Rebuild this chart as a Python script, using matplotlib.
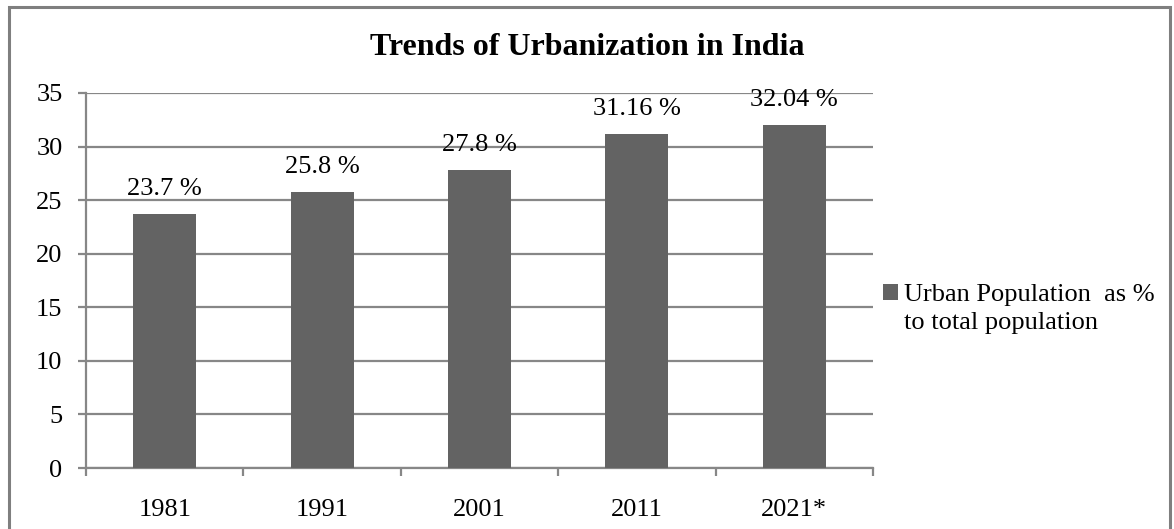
import matplotlib.pyplot as plt
from matplotlib.patches import Rectangle

# dane
years = ['1981', '1991', '2001', '2011', '2021*']
urban_pct = [23.7, 25.8, 27.8, 31.16, 32.04]
bar_labels = ['23.7 %', '25.8 %', '27.8 %', '31.16 %', '32.04 %']
yticks = [0, 5, 10, 15, 20, 25, 30, 35]
legend_lines = ['Urban Population  as %', 'to total population']

plt.rcParams['font.family'] = ['Liberation Serif', 'DejaVu Serif']
grid_col = '#878787'
bar_col = '#636363'

fig = plt.figure(figsize=(11.74, 5.29), dpi=100)
ax = fig.add_axes([0.0733, 0.1153, 0.6703, 0.7089])

x = list(range(len(years)))
bars = ax.bar(x, urban_pct, width=0.4, color=bar_col, zorder=3)

for b, lab in zip(bars, bar_labels):
    ax.annotate(lab, (b.get_x() + b.get_width() / 2, b.get_height()),
                xytext=(0, 18), textcoords='offset points',
                ha='center', va='center', fontsize=19)

ax.set_xlim(-0.5, len(years) - 0.5)
ax.set_ylim(0, 35)
ax.set_yticks(yticks)
ax.set_yticklabels([str(v) for v in yticks], fontsize=19)
ax.yaxis.grid(True, color=grid_col, linewidth=1.6, zorder=0)
ax.tick_params(axis='y', length=6, width=1.6, color=grid_col, pad=11)

# podzialki x na granicach kategorii
ax.set_xticks([i - 0.5 for i in range(len(years) + 1)])
ax.set_xticklabels([])
ax.set_xticks(x, minor=True)
ax.set_xticklabels(years, minor=True, fontsize=19)
ax.tick_params(axis='x', which='major', length=6, width=1.6, color=grid_col)
ax.tick_params(axis='x', which='minor', length=0, pad=22)

for s in ['top', 'right']:
    ax.spines[s].set_visible(False)
for s in ['left', 'bottom']:
    ax.spines[s].set_color(grid_col)
    ax.spines[s].set_linewidth(1.6)

fig.text(0.5, 0.911, 'Trends of Urbanization in India', ha='center', va='center',
         fontsize=23, fontweight='bold')

# legenda - druga linia bez znacznika
blank = Rectangle((0, 0), 1, 1, fill=False, edgecolor='none')
ax.legend([bars, blank], legend_lines, loc='upper left',
          bbox_to_anchor=(0.982, 0.555), frameon=False,
          fontsize=19, handlelength=0.6, handleheight=0.6, handletextpad=0.2,
          labelspacing=0.2)

# ramka dookola
fig.patches.append(Rectangle((9 / 1174, -0.05), 1161 / 1174, 1.05 - 7 / 529,
                             transform=fig.transFigure, fill=False,
                             edgecolor='#7f7f7f', linewidth=2.2))

fig.savefig('out.png', dpi=100)
